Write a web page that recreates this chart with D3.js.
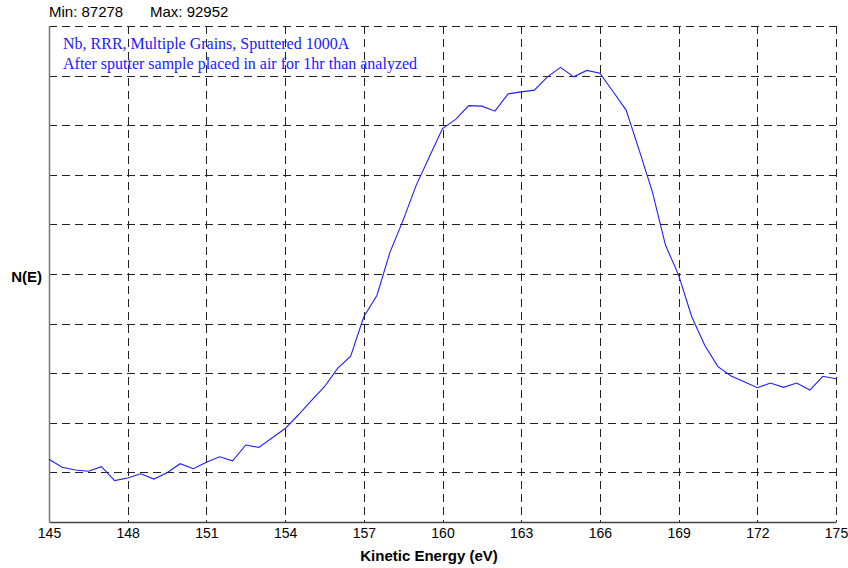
<!DOCTYPE html>
<html>
<head>
<meta charset="utf-8">
<script src="https://cdn.jsdelivr.net/npm/d3@7"></script>
<style>
  body { margin: 0; background: #fff; }
  svg { display: block; }
</style>
</head>
<body>
<div id="chart"></div>
<script>
// kinetic energy (eV), one point every 0.5 eV
const energy = d3.range(145, 175.01, 0.5);

// N(E) counts
const counts = [
  87571, 87461, 87424, 87406, 87469, 87278, 87314, 87373, 87300, 87387,
  87510, 87442, 87529, 87606, 87551, 87767, 87735, 87863, 87993, 88179,
  88375, 88567, 88820, 88988, 89528, 89821, 90416, 90855, 91335, 91724,
  92111, 92238, 92427, 92420, 92351, 92588, 92616, 92639, 92822, 92952,
  92822, 92910, 92873, 92621, 92365, 91812, 91243, 90512, 90100, 89528,
  89133, 88844, 88714, 88636, 88553, 88618, 88559, 88618, 88522, 88710,
  88677
];

const xTicks = [145, 148, 151, 154, 157, 160, 163, 166, 169, 172, 175];
const yDomain = [86710, 93520];
const notes = [
  "Nb, RRR, Multiple Grains, Sputtered 1000A",
  "After sputter sample placed in air for 1hr than analyzed"
];

const data = energy.map((e, i) => ({ e: e, v: counts[i] }));

const W = 848, H = 568;
const margin = { left: 49, top: 26, right: 12, bottom: 46 };
const width = W - margin.left - margin.right;
const height = H - margin.top - margin.bottom;

const svg = d3.select("#chart")
    .append("svg")
    .attr("width", W)
    .attr("height", H);

const g = svg.append("g")
    .attr("transform", `translate(${margin.left},${margin.top})`);

const x = d3.scaleLinear().domain([145, 175]).range([0, width]);
const y = d3.scaleLinear().domain(yDomain).range([height, 0]);

// horizontal grid, 10 divisions
const yGrid = d3.range(0, 11).map(i => yDomain[0] + i * (yDomain[1] - yDomain[0]) / 10);
g.selectAll(".hgrid")
    .data(yGrid.slice(1))
    .enter()
    .append("line")
    .attr("class", "hgrid")
    .attr("x1", 0)
    .attr("x2", width)
    .attr("y1", d => Math.round(y(d)) + 0.5)
    .attr("y2", d => Math.round(y(d)) + 0.5)
    .attr("stroke", "#222")
    .attr("stroke-dasharray", "8,5");

// vertical grid at every tick
g.selectAll(".vgrid")
    .data(xTicks.slice(1))
    .enter()
    .append("line")
    .attr("class", "vgrid")
    .attr("x1", d => Math.round(x(d)) + 0.5)
    .attr("x2", d => Math.round(x(d)) + 0.5)
    .attr("y1", 0)
    .attr("y2", height)
    .attr("stroke", "#222")
    .attr("stroke-dasharray", "8,5");

// left axis line (solid gray)
g.append("line")
    .attr("x1", 0.5).attr("x2", 0.5)
    .attr("y1", 0).attr("y2", height)
    .attr("stroke", "#777")
    .attr("stroke-width", 1.5);

// bottom axis
const xAxis = g.append("g")
    .attr("transform", `translate(0,${height})`)
    .call(d3.axisBottom(x).tickValues(xTicks).tickSize(0).tickPadding(6).tickFormat(d3.format("d")));
xAxis.select(".domain").attr("stroke", "#444").attr("stroke-width", 1.5);
xAxis.selectAll("text")
    .attr("font-family", "Liberation Sans, Arial, sans-serif")
    .attr("font-size", 14)
    .attr("fill", "#000");

// the curve
const line = d3.line()
    .x(d => x(d.e))
    .y(d => y(d.v));

g.append("path")
    .datum(data)
    .attr("fill", "none")
    .attr("stroke", "#1f1fff")
    .attr("stroke-width", 1.1)
    .attr("d", line);

// blue note lines
g.selectAll(".note")
    .data(notes)
    .enter()
    .append("text")
    .attr("class", "note")
    .attr("x", 14)
    .attr("y", (d, i) => 23 + i * 20)
    .attr("font-family", "Liberation Serif, Times New Roman, serif")
    .attr("font-size", 16)
    .attr("fill", "#2020ff")
    .text(d => d);

// min / max header
svg.append("text")
    .attr("x", 49)
    .attr("y", 17)
    .attr("font-family", "Liberation Sans, Arial, sans-serif")
    .attr("font-size", 15)
    .text("Min: " + d3.min(counts));

svg.append("text")
    .attr("x", 150)
    .attr("y", 17)
    .attr("font-family", "Liberation Sans, Arial, sans-serif")
    .attr("font-size", 15)
    .text("Max: " + d3.max(counts));

// axis titles
svg.append("text")
    .attr("x", 429)
    .attr("y", 561)
    .attr("text-anchor", "middle")
    .attr("font-family", "Liberation Sans, Arial, sans-serif")
    .attr("font-size", 15)
    .attr("font-weight", "bold")
    .text("Kinetic Energy (eV)");

svg.append("text")
    .attr("x", 42)
    .attr("y", 282)
    .attr("text-anchor", "end")
    .attr("font-family", "Liberation Sans, Arial, sans-serif")
    .attr("font-size", 15)
    .attr("font-weight", "bold")
    .text("N(E)");
</script>
</body>
</html>
